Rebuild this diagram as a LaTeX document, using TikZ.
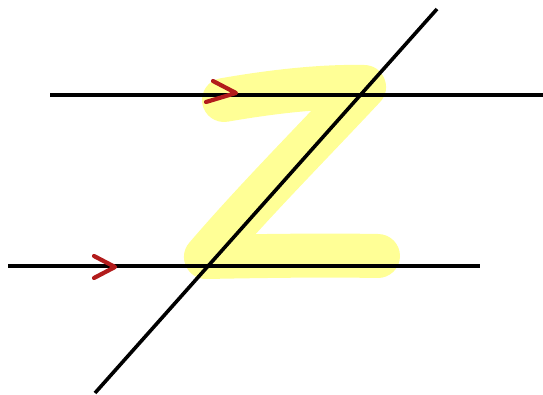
\documentclass[tikz,border=0pt]{standalone}
\definecolor{hiyellow}{RGB}{255,255,150}
\definecolor{chevred}{RGB}{178,28,28}
\begin{document}
\begin{tikzpicture}[x=1pt,y=-1pt,
  blackline/.style={line width=3.6pt,black},
  highlight/.style={line width=44pt,color=hiyellow,line cap=round,line join=round},
  chevron/.style={line width=4.2pt,color=chevred,line cap=round,line join=round}]
\useasboundingbox (0,0) rectangle (543,395);
% yellow Z
\coordinate (z1) at (224,100);
\coordinate (z2) at (364,87);
\coordinate (z3) at (206,257);
\coordinate (z4) at (378,256);
\draw[highlight] (z1) .. controls (270,92) and (320,86) .. (z2)
  .. controls (305,150) and (255,200) .. (z3)
  .. controls (260,256) and (320,255) .. (z4);
% lines
\coordinate (t1) at (50,95);
\coordinate (t2) at (543,95);
\coordinate (b1) at (8,266);
\coordinate (b2) at (480,266);
\coordinate (d1) at (95,393);
\coordinate (d2) at (437,9);
\draw[blackline] (t1) -- (t2);
\draw[blackline] (b1) -- (b2);
\draw[blackline] (d1) -- (d2);
% arrowheads
\coordinate (ta) at (213,81);
\coordinate (tb) at (236,93);
\coordinate (tc) at (206,102);
\draw[chevron] (ta) -- (tb) -- (tc);
\coordinate (ba) at (94,256);
\coordinate (bb) at (115,267);
\coordinate (bc) at (94,278);
\draw[chevron] (ba) -- (bb) -- (bc);
\end{tikzpicture}
\end{document}
